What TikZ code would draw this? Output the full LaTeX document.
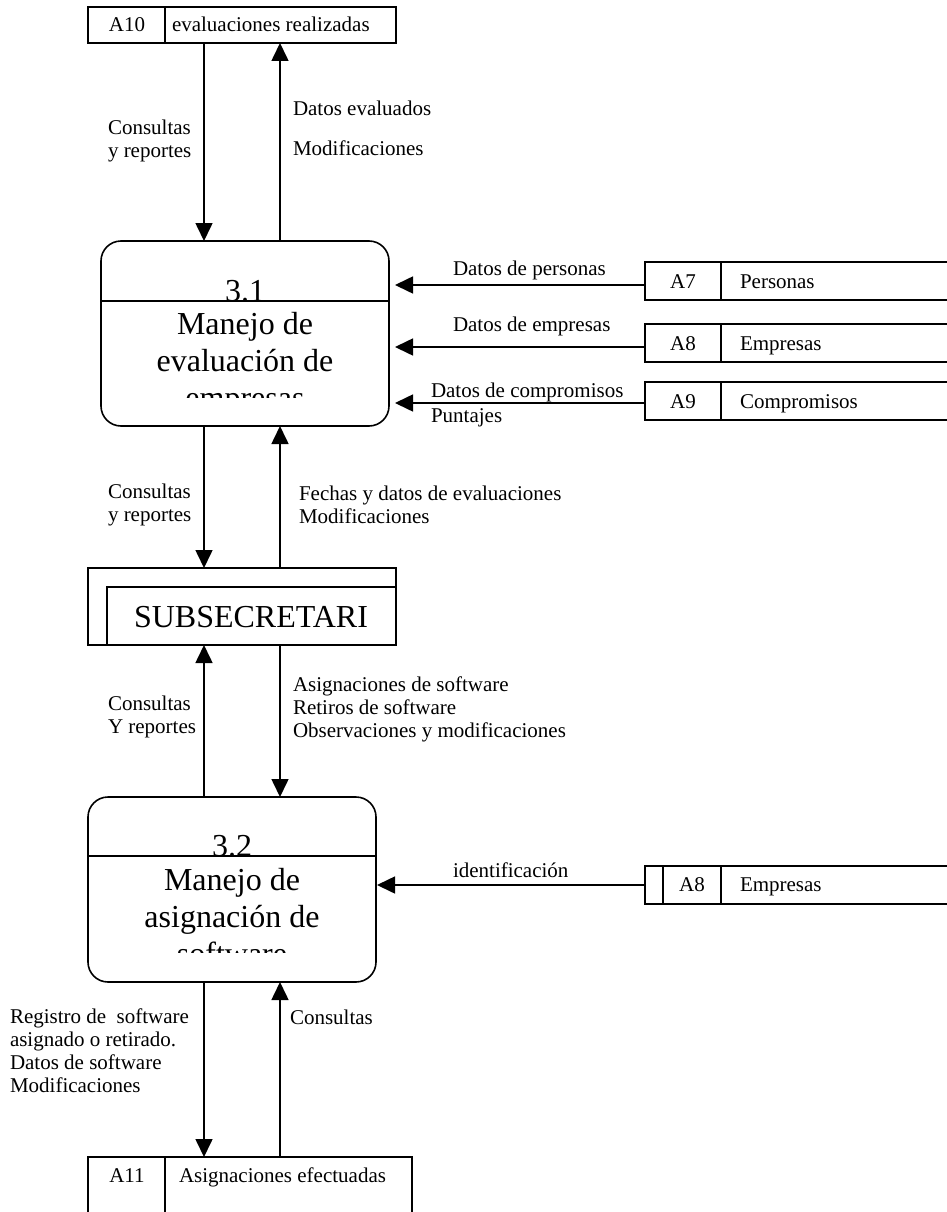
\documentclass[tikz,border=0pt]{standalone}
\usepackage{fontspec}
\setmainfont{Liberation Serif}
\usetikzlibrary{arrows.meta}
\begin{document}
\begin{tikzpicture}[x=1pt,y=-1pt,
  every node/.style={inner sep=0pt, outer sep=0pt},
  lab/.style={font=\fontsize{21}{23}\selectfont, align=left, anchor=west},
  stxt/.style={font=\fontsize{21}{23}\selectfont, anchor=base},
  stxl/.style={font=\fontsize{21}{23}\selectfont, anchor=base west},
  big/.style={font=\fontsize{32}{37}\selectfont, anchor=base},
  ln/.style={line width=1.6pt},
  arr/.style={line width=1.6pt, -{Triangle[width=17pt,length=18pt]}},
  proc/.style={draw, line width=1.6pt, rounded corners=20pt, minimum width=288pt, minimum height=185pt},
]
\useasboundingbox (0,0) rectangle (947,1212);
\coordinate (xl) at (204,0);
\coordinate (xr) at (280,0);

% ---- store A10
\node[draw, ln, anchor=north west, minimum width=308pt, minimum height=36pt] (a10) at (88,7) {};
\draw[ln] (165,7) -- (165,43);
\node[stxt] (a10n) at (127,32) {A10};
\node[stxl] (a10t) at (172,32) {evaluaciones realizadas};

% ---- process 3.1
\node[proc] (p31) at (245,333.5) {};
\draw[ln] (101,301) -- (389,301);
\node[big] (p31n) at (245,301) {3.1};
\begin{scope}
  \clip (101,301) rectangle (389,397);
  \node[big] (p31a) at (245,334) {Manejo de};
  \node[big] (p31b) at (245,371) {evaluación de};
  \node[big] (p31c) at (245,408) {empresas};
\end{scope}

% ---- stores A7, A8, A9
\draw[ln] (960,262) -- (645,262) -- (645,300) -- (960,300);
\draw[ln] (721,262) -- (721,300);
\coordinate (a7) at (645,285);
\node[stxt] (a7n) at (683,288) {A7};
\node[stxl] (a7t) at (740,288) {Personas};

\draw[ln] (960,324) -- (645,324) -- (645,362) -- (960,362);
\draw[ln] (721,324) -- (721,362);
\coordinate (a8) at (645,347);
\node[stxt] (a8n) at (683,350) {A8};
\node[stxl] (a8t) at (740,350) {Empresas};

\draw[ln] (960,382) -- (645,382) -- (645,420) -- (960,420);
\draw[ln] (721,382) -- (721,420);
\coordinate (a9) at (645,403);
\node[stxt] (a9n) at (683,408) {A9};
\node[stxl] (a9t) at (740,408) {Compromisos};

% ---- SUBSECRETARI
\node[draw, ln, anchor=north west, minimum width=308pt, minimum height=77pt] (sub) at (88,568) {};
\draw[ln] (107,645) -- (107,587) -- (396,587);
\node[big] (subt) at (251,627) {SUBSECRETARI};

% ---- process 3.2
\node[proc] (p32) at (232,889.5) {};
\draw[ln] (88,856) -- (376,856);
\node[big] (p32n) at (232,856) {3.2};
\begin{scope}
  \clip (88,856) rectangle (376,952);
  \node[big] (p32a) at (232,890) {Manejo de};
  \node[big] (p32b) at (232,927) {asignación de};
  \node[big] (p32c) at (232,964) {software};
\end{scope}

% ---- store A8 (lower)
\draw[ln] (960,866) -- (645,866) -- (645,904) -- (960,904);
\draw[ln] (663,866) -- (663,904);
\draw[ln] (721,866) -- (721,904);
\coordinate (a8b) at (645,885);
\node[stxt] (a8bn) at (692,891) {A8};
\node[stxl] (a8bt) at (740,891) {Empresas};

% ---- store A11
\draw[ln] (88,1220) -- (88,1157) -- (412,1157) -- (412,1220);
\draw[ln] (165,1157) -- (165,1220);
\coordinate (a11) at (250,1157);
\node[stxt] (a11n) at (127,1182) {A11};
\node[stxl] (a11t) at (179,1182) {Asignaciones efectuadas};

% ---- connectors
\draw[arr] (a10.south -| xl) -- (p31.north -| xl);
\draw[arr] (p31.north -| xr) -- (a10.south -| xr);
\draw[arr] (a7) -- ([xshift=6pt]p31.east |- a7);
\draw[arr] (a8) -- ([xshift=6pt]p31.east |- a8);
\draw[arr] (a9) -- ([xshift=6pt]p31.east |- a9);
\draw[arr] (p31.south -| xl) -- (sub.north -| xl);
\draw[arr] (sub.north -| xr) -- (p31.south -| xr);
\draw[arr] (p32.north -| xl) -- (sub.south -| xl);
\draw[arr] (sub.south -| xr) -- (p32.north -| xr);
\draw[arr] (a8b) -- ([xshift=1pt]p32.east |- a8b);
\draw[arr] (p32.south -| xl) -- (a11 -| xl);
\draw[arr] (a11 -| xr) -- (p32.south -| xr);

% ---- labels
\node[lab] (l1) at (108,141) {Consultas\\y reportes};
\node[lab] (l2) at (293,108) {Datos evaluados};
\node[lab] (l3) at (293,148) {Modificaciones};
\node[lab] (l4) at (453,270) {Datos de personas};
\node[lab] (l5) at (453,326) {Datos de empresas};
\node[lab] (l6) at (431,392) {Datos de compromisos};
\node[lab] (l7) at (431,418) {Puntajes};
\node[lab] (l8) at (108,505) {Consultas\\y reportes};
\node[lab] (l9) at (299,505) {Fechas y datos de evaluaciones\\Modificaciones};
\node[lab] (l10) at (108,717) {Consultas\\Y reportes};
\node[lab] (l11) at (293,709) {Asignaciones de software\\Retiros de software\\Observaciones y modificaciones};
\node[lab] (l12) at (453,870) {identificación};
\node[lab] (l13) at (10,1051) {Registro de \ software\\asignado o retirado.\\Datos de software\\Modificaciones};
\node[lab] (l14) at (290,1017) {Consultas};
\end{tikzpicture}
\end{document}
